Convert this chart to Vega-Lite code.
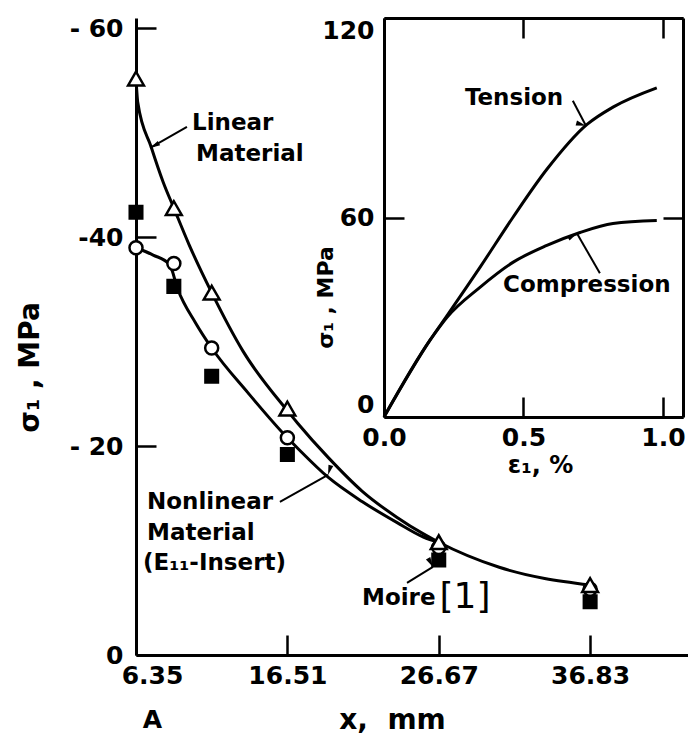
{
  "$schema": "https://vega.github.io/schema/vega-lite/v6.json",
  "width": 552,
  "height": 637,
  "autosize": {"type": "none"},
  "padding": {"left": 136, "top": 18, "right": 0, "bottom": 86},
  "background": "white",
  "config": {
    "view": {"stroke": null},
    "font": "DejaVu Sans",
    "axis": {
      "grid": false,
      "domainColor": "black",
      "domainWidth": 3,
      "tickColor": "black",
      "tickWidth": 2.5,
      "labelColor": "black",
      "labelFont": "DejaVu Sans",
      "labelFontWeight": "bold",
      "labelFontSize": 25,
      "titleColor": "black",
      "titleFont": "DejaVu Sans",
      "titleFontWeight": "bold"
    },
    "text": {"font": "DejaVu Sans", "fontWeight": "bold", "color": "black"}
  },
  "datasets": {
    "markers": [
      {"series": "Linear Material", "x": 6.35, "y": -55.2},
      {"series": "Linear Material", "x": 8.89, "y": -42.8},
      {"series": "Linear Material", "x": 11.43, "y": -34.7},
      {"series": "Linear Material", "x": 16.51, "y": -23.6},
      {"series": "Linear Material", "x": 26.67, "y": -10.8},
      {"series": "Linear Material", "x": 36.83, "y": -6.7},
      {"series": "Nonlinear Material", "x": 6.35, "y": -39.0},
      {"series": "Nonlinear Material", "x": 8.89, "y": -37.5},
      {"series": "Nonlinear Material", "x": 11.43, "y": -29.4},
      {"series": "Nonlinear Material", "x": 16.51, "y": -20.8},
      {"series": "Nonlinear Material", "x": 26.67, "y": -10.3},
      {"series": "Nonlinear Material", "x": 36.83, "y": -6.3},
      {"series": "Moire", "x": 6.35, "y": -42.4},
      {"series": "Moire", "x": 8.89, "y": -35.3},
      {"series": "Moire", "x": 11.43, "y": -26.7},
      {"series": "Moire", "x": 16.51, "y": -19.2},
      {"series": "Moire", "x": 26.67, "y": -9.1},
      {"series": "Moire", "x": 36.83, "y": -5.1}
    ],
    "curves": [
      {"curve": "Linear", "x": 6.35, "y": -55.2},
      {"curve": "Linear", "x": 6.47, "y": -52.9},
      {"curve": "Linear", "x": 7.38, "y": -48.6},
      {"curve": "Linear", "x": 8.17, "y": -45.3},
      {"curve": "Linear", "x": 8.89, "y": -42.8},
      {"curve": "Linear", "x": 9.91, "y": -39.3},
      {"curve": "Linear", "x": 11.43, "y": -34.7},
      {"curve": "Linear", "x": 13.53, "y": -29.1},
      {"curve": "Linear", "x": 16.51, "y": -23.4},
      {"curve": "Linear", "x": 17.2, "y": -22.2},
      {"curve": "Linear", "x": 19.26, "y": -18.9},
      {"curve": "Linear", "x": 21.52, "y": -15.7},
      {"curve": "Linear", "x": 23.85, "y": -13.2},
      {"curve": "Linear", "x": 25.64, "y": -11.6},
      {"curve": "Linear", "x": 26.67, "y": -10.8},
      {"curve": "Linear", "x": 30.73, "y": -8.4},
      {"curve": "Linear", "x": 36.83, "y": -6.7},
      {"curve": "Nonlinear", "x": 6.35, "y": -39.0},
      {"curve": "Nonlinear", "x": 7.5, "y": -38.3},
      {"curve": "Nonlinear", "x": 8.6, "y": -37.4},
      {"curve": "Nonlinear", "x": 9.16, "y": -35.0},
      {"curve": "Nonlinear", "x": 10.35, "y": -31.8},
      {"curve": "Nonlinear", "x": 11.43, "y": -29.4},
      {"curve": "Nonlinear", "x": 13.87, "y": -25.1},
      {"curve": "Nonlinear", "x": 16.51, "y": -20.8},
      {"curve": "Nonlinear", "x": 17.2, "y": -19.8},
      {"curve": "Nonlinear", "x": 19.26, "y": -17.0},
      {"curve": "Nonlinear", "x": 21.52, "y": -14.7},
      {"curve": "Nonlinear", "x": 23.85, "y": -12.7},
      {"curve": "Nonlinear", "x": 25.64, "y": -11.3},
      {"curve": "Nonlinear", "x": 26.67, "y": -10.8}
    ],
    "inset": [
      {"curve": "Tension", "x": 0, "y": 0},
      {"curve": "Tension", "x": 0.165, "y": 23.1},
      {"curve": "Tension", "x": 0.226, "y": 30.5},
      {"curve": "Tension", "x": 0.344, "y": 45.0},
      {"curve": "Tension", "x": 0.462, "y": 60.0},
      {"curve": "Tension", "x": 0.584, "y": 74.5},
      {"curve": "Tension", "x": 0.728, "y": 88.0},
      {"curve": "Tension", "x": 0.821, "y": 93.2},
      {"curve": "Tension", "x": 0.978, "y": 99.0},
      {"curve": "Compression", "x": 0, "y": 0},
      {"curve": "Compression", "x": 0.165, "y": 23.1},
      {"curve": "Compression", "x": 0.226, "y": 30.0},
      {"curve": "Compression", "x": 0.344, "y": 39.0},
      {"curve": "Compression", "x": 0.462, "y": 46.5},
      {"curve": "Compression", "x": 0.584, "y": 51.6},
      {"curve": "Compression", "x": 0.703, "y": 55.5},
      {"curve": "Compression", "x": 0.821, "y": 58.2},
      {"curve": "Compression", "x": 0.978, "y": 59.1}
    ],
    "notes": [
      {"panel": "main", "label": "Linear", "x": 10.11, "y": -50.96},
      {"panel": "main", "label": "Material", "x": 10.38, "y": -47.99},
      {"panel": "main", "label": "Nonlinear", "x": 7.09, "y": -14.66},
      {"panel": "main", "label": "Material", "x": 7.09, "y": -11.69},
      {"panel": "main", "label": "(E₁₁-Insert)", "x": 6.82, "y": -8.81},
      {"panel": "main", "label": "Moire", "x": 21.52, "y": -5.46},
      {"panel": "inset", "label": "Tension", "x": 0.29, "y": 96.0},
      {"panel": "inset", "label": "Compression", "x": 0.427, "y": 39.6}
    ],
    "refs": [
      {"label": "[1]", "x": 28.43, "y": -5.6}
    ],
    "arrows": [
      {"panel": "main", "name": "linear", "x": 9.77, "y": -50.57, "x2": 7.3, "y2": -48.56},
      {"panel": "main", "name": "nonlinear", "x": 16.01, "y": -14.66, "x2": 19.24, "y2": -17.24},
      {"panel": "main", "name": "moire", "x": 24.54, "y": -6.9, "x2": 26.28, "y2": -8.43},
      {"panel": "inset", "name": "tension", "x": 0.677, "y": 95.1, "x2": 0.724, "y2": 87.6},
      {"panel": "inset", "name": "compression", "x": 0.774, "y": 43.2, "x2": 0.692, "y2": 55.2}
    ]
  },
  "resolve": {"scale": {"x": "independent", "y": "independent"}, "axis": {"x": "independent", "y": "independent"}},
  "layer": [
    {
      "encoding": {
        "x": {
          "field": "x", "type": "quantitative",
          "scale": {"domain": [6.35, 43.4], "nice": false, "zero": false},
          "axis": {
            "orient": "bottom",
            "values": [6.35, 16.51, 26.67, 36.83],
            "tickSize": -20,
            "labelPadding": 28,
            "labelFlush": false,
            "labelOffset": {"condition": {"test": "datum.value < 7", "value": 16}, "value": 0},
            "labelLineHeight": 44,
            "labelExpr": "datum.value < 7 ? ['6.35', 'A'] : format(datum.value, '.2f')",
            "title": "x,\u00a0 mm",
            "titleFontSize": 28,
            "titleX": 256,
            "titleY": 65,
            "titleAlign": "center",
            "titleBaseline": "middle"
          }
        },
        "y": {
          "field": "y", "type": "quantitative",
          "scale": {"domain": [0, -61], "nice": false, "zero": false},
          "axis": {
            "orient": "left",
            "values": [0, -20, -40, -60],
            "tickSize": -20,
            "labelPadding": 33,
            "labelFlush": false,
            "labelExpr": "datum.value == 0 ? '0' : datum.value == -40 ? '-40' : '- ' + abs(datum.value)",
            "title": "σ₁ , MPa",
            "titleFontSize": 28,
            "titleX": -106,
            "titleY": 349,
            "titleAngle": -90,
            "titleAlign": "center",
            "titleBaseline": "middle"
          }
        }
      },
      "layer": [
        {
          "data": {"name": "curves"},
          "mark": {"type": "line", "interpolate": "monotone", "color": "black", "strokeWidth": 3},
          "encoding": {"detail": {"field": "curve"}}
        },
        {
          "data": {"name": "markers"},
          "transform": [{"filter": "datum.series == 'Moire'"}],
          "mark": {"type": "point", "shape": "square", "filled": true, "fill": "black", "stroke": "black", "size": 170, "opacity": 1}
        },
        {
          "data": {"name": "markers"},
          "transform": [{"filter": "datum.series == 'Nonlinear Material'"}],
          "mark": {"type": "point", "shape": "circle", "filled": true, "fill": "white", "stroke": "black", "strokeWidth": 2.5, "size": 170, "opacity": 1}
        },
        {
          "data": {"name": "markers"},
          "transform": [{"filter": "datum.series == 'Linear Material'"}],
          "mark": {"type": "point", "shape": "triangle-up", "filled": true, "fill": "white", "stroke": "black", "strokeWidth": 2.5, "size": 250, "opacity": 1}
        },
        {
          "data": {"values": [{}]},
          "mark": {"type": "rule", "color": "black", "strokeWidth": 3},
          "encoding": {"x": {"datum": 6.35}, "x2": {"datum": 43.4}, "y": {"datum": -61}}
        },
        {
          "data": {"name": "notes"},
          "transform": [{"filter": "datum.panel == 'main'"}],
          "mark": {"type": "text", "align": "left", "baseline": "middle", "fontSize": 23},
          "encoding": {"text": {"field": "label"}}
        },
        {
          "data": {"name": "refs"},
          "mark": {"type": "text", "align": "center", "baseline": "middle", "fontSize": 36, "fontWeight": "normal"},
          "encoding": {"text": {"field": "label"}}
        },
        {
          "data": {"name": "arrows"},
          "transform": [{"filter": "datum.panel == 'main'"}],
          "mark": {"type": "rule", "color": "black", "strokeWidth": 2},
          "encoding": {"x2": {"field": "x2"}, "y2": {"field": "y2"}}
        },
        {
          "data": {"name": "arrows"},
          "transform": [{"filter": "datum.panel == 'main'"}],
          "mark": {"type": "point", "shape": "M0,0L0.5,2L-0.5,2Z", "filled": true, "color": "black", "size": 100, "opacity": 1},
          "encoding": {
            "x": {"field": "x2", "type": "quantitative"},
            "y": {"field": "y2", "type": "quantitative"},
            "angle": {"field": "name", "type": "nominal", "legend": null,
              "scale": {"domain": ["linear", "nonlinear", "moire", "tension", "compression"], "range": [241.7, 60.6, 58.4, 152.5, 330]}}
          }
        }
      ]
    },
    {
      "resolve": {"axis": {"x": "independent", "y": "independent"}},
      "encoding": {
        "x": {"field": "x", "type": "quantitative", "scale": {"domain": [0, 1.072], "range": [248, 547], "nice": false, "zero": false}, "axis": null},
        "y": {"field": "y", "type": "quantitative", "scale": {"domain": [0, 120], "range": [399, 0], "nice": false, "zero": false}, "axis": null}
      },
      "layer": [
        {
          "data": {"name": "inset"},
          "mark": {"type": "line", "interpolate": "monotone", "color": "black", "strokeWidth": 3},
          "encoding": {"detail": {"field": "curve"}}
        },
        {
          "data": {"name": "inset"},
          "mark": {"type": "line", "opacity": 0},
          "encoding": {
            "detail": {"field": "curve"},
            "x": {"field": "x", "type": "quantitative", "scale": {"domain": [0, 1.072], "range": [248, 547], "nice": false, "zero": false},
              "axis": {"orient": "bottom", "offset": -238, "values": [0, 0.5, 1], "format": ".1f", "tickSize": -20, "labelPadding": 28, "labelFlush": false,
                "title": "ε₁, %", "titleFontSize": 24, "titleX": 404, "titleY": 48, "titleAlign": "center", "titleBaseline": "middle"}},
            "y": {"field": "y", "type": "quantitative", "scale": {"domain": [0, 120], "range": [399, 0], "nice": false, "zero": false},
              "axis": {"orient": "left", "offset": -248, "values": [0, 60, 120], "format": "d", "tickSize": -20, "labelPadding": 30, "labelFlush": true,
                "title": "σ₁ , MPa", "titleFontSize": 22, "titleX": -59, "titleY": 279, "titleAngle": -90, "titleAlign": "center", "titleBaseline": "middle"}}
          }
        },
        {
          "data": {"name": "inset"},
          "mark": {"type": "line", "opacity": 0},
          "encoding": {
            "detail": {"field": "curve"},
            "x": {"field": "x", "type": "quantitative", "scale": {"domain": [0, 1.072], "range": [248, 547], "nice": false, "zero": false},
              "axis": {"orient": "top", "offset": 0, "values": [0, 0.5, 1], "tickSize": -20, "labels": false, "title": null}},
            "y": {"field": "y", "type": "quantitative", "scale": {"domain": [0, 120], "range": [399, 0], "nice": false, "zero": false},
              "axis": {"orient": "right", "offset": -5, "values": [0, 60, 120], "tickSize": -20, "labels": false, "title": null}}
          }
        },
        {
          "data": {"name": "notes"},
          "transform": [{"filter": "datum.panel == 'inset'"}],
          "mark": {"type": "text", "align": "left", "baseline": "middle", "fontSize": 23},
          "encoding": {"text": {"field": "label"}}
        },
        {
          "data": {"name": "arrows"},
          "transform": [{"filter": "datum.panel == 'inset'"}],
          "mark": {"type": "rule", "color": "black", "strokeWidth": 2},
          "encoding": {"x2": {"field": "x2"}, "y2": {"field": "y2"}}
        },
        {
          "data": {"name": "arrows"},
          "transform": [{"filter": "datum.panel == 'inset'"}],
          "mark": {"type": "point", "shape": "M0,0L0.5,2L-0.5,2Z", "filled": true, "color": "black", "size": 100, "opacity": 1},
          "encoding": {
            "x": {"field": "x2", "type": "quantitative", "scale": {"domain": [0, 1.072], "range": [248, 547], "nice": false, "zero": false}, "axis": null},
            "y": {"field": "y2", "type": "quantitative", "scale": {"domain": [0, 120], "range": [399, 0], "nice": false, "zero": false}, "axis": null},
            "angle": {"field": "name", "type": "nominal", "legend": null,
              "scale": {"domain": ["linear", "nonlinear", "moire", "tension", "compression"], "range": [241.7, 60.6, 58.4, 152.5, 330]}}
          }
        }
      ]
    }
  ]
}
